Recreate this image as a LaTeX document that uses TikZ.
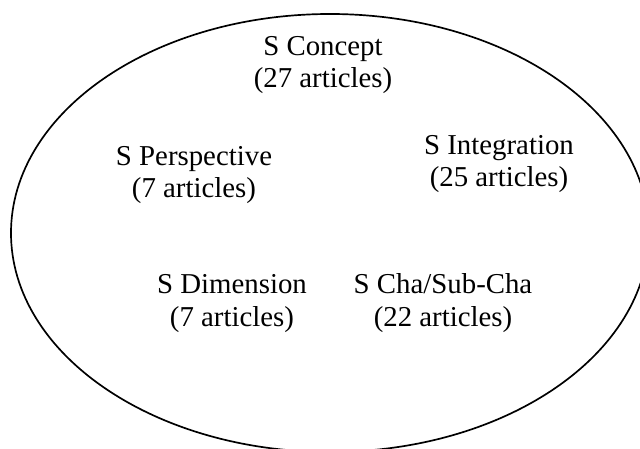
\documentclass[tikz,border=0pt]{standalone}
\usepackage{fontspec}
\setmainfont{Liberation Serif}
\usetikzlibrary{calc}

\tikzset{
  topic/.style={align=center,anchor=base,inner sep=0pt,
    font=\fontsize{20.5}{22.8}\selectfont}
}

\begin{document}
\begin{tikzpicture}[scale=1]
\useasboundingbox (0,0) rectangle (16,11.2);
\draw[line width=1.2pt] (8.25,5.375) ellipse [x radius=7.975cm, y radius=5.475cm];
\node[topic] (concept) at (8.075,9.0) {S Concept\\(27 articles)};
\node[topic] (persp) at (4.85,6.25) {S Perspective\\(7 articles)};
\node[topic] (integ) at (12.475,6.525) {S Integration\\(25 articles)};
\node[topic] (dimen) at (5.8,3.05) {S Dimension\\(7 articles)};
\node[topic] (chasub) at (11.075,3.05) {S Cha/Sub-Cha\\(22 articles)};
\end{tikzpicture}
\end{document}
